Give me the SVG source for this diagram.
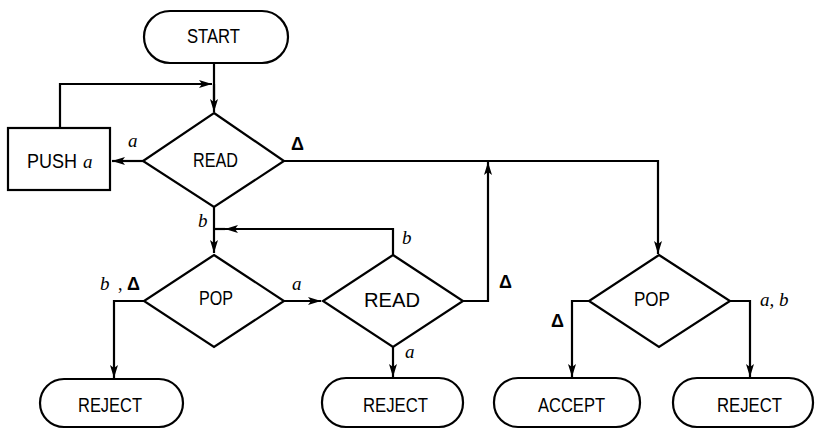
<svg xmlns="http://www.w3.org/2000/svg" width="815" height="429" viewBox="0 0 815 429">
<style>
.shape{fill:none;stroke:#000;stroke-width:2.2;stroke-linejoin:miter}
.conn{fill:none;stroke:#000;stroke-width:2.2}
.lbl{font-family:"Liberation Sans",Arial,sans-serif;font-size:20px;fill:#000}
.it{font-family:"Liberation Serif","Times New Roman",serif;font-style:italic;font-size:19px;fill:#000}
.dl{font-family:"Liberation Sans",Arial,sans-serif;font-size:18px;font-weight:bold;fill:#000}
.cm{font-family:"Liberation Serif","Times New Roman",serif;font-size:18px;fill:#000}
</style>
<defs>
<marker id="arr" markerUnits="userSpaceOnUse" markerWidth="14" markerHeight="10" viewBox="0 0 14 10" refX="13" refY="5" orient="auto">
<path d="M0,1 L13,5 L0,9 L3,5 z" fill="#000"/>
</marker>
</defs>
<rect width="815" height="429" fill="#fff"/>
<g id="connectors">
<path class="conn" d="M214,63 V112" marker-end="url(#arr)"/>
<path class="conn" d="M60,128 V84 H212" marker-end="url(#arr)"/>
<path class="conn" d="M214,84 V100"/>
<path class="conn" d="M144,161 H112" marker-end="url(#arr)"/>
<path class="conn" d="M284,161 H658 V254" marker-end="url(#arr)"/>
<path class="conn" d="M214,207 V253" marker-end="url(#arr)"/>
<path class="conn" d="M393,255 V229 H225" marker-end="url(#arr)"/>
<path class="conn" d="M225,229 H214"/>
<path class="conn" d="M144,301 H114 V378" marker-end="url(#arr)"/>
<path class="conn" d="M284,301 H321" marker-end="url(#arr)"/>
<path class="conn" d="M463,301 H488 V162" marker-end="url(#arr)"/>
<path class="conn" d="M393,347 V377" marker-end="url(#arr)"/>
<path class="conn" d="M589,301 H572 V377" marker-end="url(#arr)"/>
<path class="conn" d="M730,301 H750 V377" marker-end="url(#arr)"/>
</g>
<g id="start">
<rect class="shape" x="144" y="11" width="144" height="52" rx="26"/>
<text class="lbl" x="187" y="43" textLength="53" lengthAdjust="spacingAndGlyphs">START</text>
</g>
<g id="read1">
<polygon class="shape" points="214,113 284,161 214,207 143,161"/>
<text class="lbl" x="193" y="167" textLength="45" lengthAdjust="spacingAndGlyphs">READ</text>
</g>
<g id="push">
<rect class="shape" x="8" y="128" width="102" height="62"/>
<text class="lbl" x="27" y="168" textLength="50" lengthAdjust="spacingAndGlyphs">PUSH</text>
<text class="it" x="83" y="168">a</text>
</g>
<g id="pop1">
<polygon class="shape" points="214,255 284,301 214,347 144,301"/>
<text class="lbl" x="199" y="305" textLength="34" lengthAdjust="spacingAndGlyphs">POP</text>
</g>
<g id="read2">
<polygon class="shape" points="393,255 463,301 393,347 323,301"/>
<text class="lbl" x="364" y="307" textLength="56" lengthAdjust="spacingAndGlyphs">READ</text>
</g>
<g id="pop2">
<polygon class="shape" points="659,255 730,301 659,347 589,301"/>
<text class="lbl" x="634" y="306" textLength="36" lengthAdjust="spacingAndGlyphs">POP</text>
</g>
<g id="reject1">
<rect class="shape" x="40" y="379" width="143" height="48" rx="24"/>
<text class="lbl" x="78" y="412" textLength="64" lengthAdjust="spacingAndGlyphs">REJECT</text>
</g>
<g id="reject2">
<rect class="shape" x="322" y="378" width="141" height="49" rx="24"/>
<text class="lbl" x="363" y="412" textLength="65" lengthAdjust="spacingAndGlyphs">REJECT</text>
</g>
<g id="accept">
<rect class="shape" x="494" y="378" width="146" height="49" rx="24"/>
<text class="lbl" x="538" y="412" textLength="67" lengthAdjust="spacingAndGlyphs">ACCEPT</text>
</g>
<g id="reject3">
<rect class="shape" x="673" y="378" width="140" height="49" rx="24"/>
<text class="lbl" x="717" y="412" textLength="65" lengthAdjust="spacingAndGlyphs">REJECT</text>
</g>
<g id="labels">
<text class="it" x="128" y="147">a</text>
<text class="dl" x="291" y="150">Δ</text>
<text class="it" x="198" y="227">b</text>
<text class="it" x="402" y="244">b</text>
<text class="it" x="100" y="290">b</text>
<text class="cm" x="118" y="290">,</text>
<text class="dl" x="127" y="290">Δ</text>
<text class="it" x="292" y="290">a</text>
<text class="dl" x="499" y="288">Δ</text>
<text class="it" x="405" y="358">a</text>
<text class="dl" x="551" y="327">Δ</text>
<text class="it" x="760" y="306">a, b</text>
</g>
</svg>
